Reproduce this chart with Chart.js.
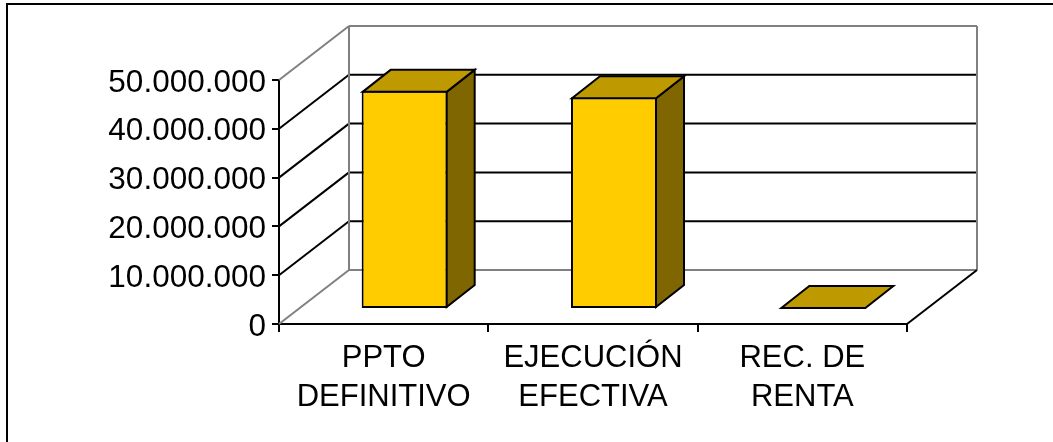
<!DOCTYPE html>
<html>
<head>
<meta charset="utf-8">
<style>
  html, body { margin: 0; padding: 0; background: #fff; overflow: hidden; }
  #chart { display: block; }
</style>
<script src="https://cdn.jsdelivr.net/npm/chart.js@4"></script>
</head>
<body>
<canvas id="chart" width="1053" height="442"></canvas>
<script>
const categories = [["PPTO", "DEFINITIVO"], ["EJECUCIÓN", "EFECTIVA"], ["REC. DE", "RENTA"]];
const values = [44700000, 43400000, 0];
const tickLabels = ["0", "10.000.000", "20.000.000", "30.000.000", "40.000.000", "50.000.000"];

const GRAY = "#808080";
const wallDepth = { x: 70, y: -54 };   // left wall / floor depth
const barShift = { x: 21, y: -15 };    // bars stand inside the floor
const barDepth = { x: 28, y: -22 };

function line(ctx, x1, y1, x2, y2, color, width) {
  ctx.strokeStyle = color;
  ctx.lineWidth = width;
  ctx.beginPath();
  ctx.moveTo(x1, y1);
  ctx.lineTo(x2, y2);
  ctx.stroke();
}

function face(ctx, pts, color) {
  ctx.fillStyle = color;
  ctx.strokeStyle = "#000";
  ctx.lineWidth = 2;
  ctx.lineJoin = "miter";
  ctx.beginPath();
  pts.forEach((p, i) => i ? ctx.lineTo(p[0], p[1]) : ctx.moveTo(p[0], p[1]));
  ctx.closePath();
  ctx.fill();
  ctx.stroke();
}

// the value labels sit a little below their ticks in the original
function nudgeLabels(scale, dy) {
  if (scale._nudged) return;
  scale._nudged = true;
  const draw = scale.drawLabels;
  scale.drawLabels = function (area) {
    this.ctx.save();
    this.ctx.translate(0, dy);
    draw.call(this, area);
    this.ctx.restore();
  };
}

const box3d = {
  id: "box3d",
  beforeDatasetsDraw(chart) {
    const ctx = chart.ctx;
    const { left, right } = chart.chartArea;
    const y = chart.scales.y;
    const dx = wallDepth.x, dy = wallDepth.y;

    ctx.save();
    // outer frame
    ctx.strokeStyle = "#000";
    ctx.lineWidth = 2;
    ctx.beginPath();
    ctx.moveTo(7, 442);
    ctx.lineTo(7, 4);
    ctx.lineTo(1053, 4);
    ctx.stroke();

    // grid on back and left walls
    y.ticks.forEach(t => {
      const p = y.getPixelForValue(t.value);
      const isEdge = t.value === 0 || t.value === y.max;
      const c = isEdge ? GRAY : "#000";
      line(ctx, left, p, left + dx, p + dy, c, 2);
      line(ctx, left + dx, p + dy, right + dx, p + dy, c, 2);
    });
    // wall verticals and floor edge
    const top = y.getPixelForValue(y.max) + dy;
    const floor = y.getPixelForValue(0) + dy;
    line(ctx, left + dx, top, left + dx, floor, GRAY, 2);
    line(ctx, right + dx, top, right + dx, floor, GRAY, 2);
    line(ctx, right, y.getPixelForValue(0), right + dx, floor, "#000", 2);
    ctx.restore();

    ctx.save();
    ctx.translate(barShift.x, barShift.y);
  },
  afterDatasetsDraw(chart) {
    const ctx = chart.ctx;
    ctx.restore();

    ctx.save();
    chart.getDatasetMeta(0).data.forEach(bar => {
      // 1px inset so the faces meet the bar's own inner border
      const l = bar.x - bar.width / 2 + barShift.x + 1;
      const r = bar.x + bar.width / 2 + barShift.x - 1;
      const b = bar.base + barShift.y - 1;
      const t = Math.min(bar.y + barShift.y + 1, b);
      const dx = barDepth.x, dy = barDepth.y;
      if (b - t > 0.5) {
        face(ctx, [[r, t], [r + dx, t + dy], [r + dx, b + dy], [r, b]], "#806600");
      }
      face(ctx, [[l, t], [l + dx, t + dy], [r + dx, t + dy], [r, t]], "#BF9900");
    });
    ctx.restore();
  }
};

new Chart(document.getElementById("chart"), {
  type: "bar",
  data: {
    labels: categories,
    datasets: [{
      data: values,
      backgroundColor: "#FFCC00",
      borderColor: "#000",
      borderWidth: 2,
      borderSkipped: false,
      categoryPercentage: 1,
      barPercentage: 0.411
    }]
  },
  options: {
    responsive: false,
    animation: false,
    devicePixelRatio: 1,
    layout: { padding: { top: 80, right: 146, left: 0, bottom: 0 } },
    plugins: { legend: { display: false }, tooltip: { enabled: false } },
    scales: {
      x: {
        afterFit: s => { s.height = 442 - 324; },
        grid: { drawOnChartArea: false, color: "#000", lineWidth: 2, tickLength: 8 },
        border: { color: "#000", width: 2 },
        ticks: {
          color: "#000",
          padding: 7,
          maxRotation: 0,
          font: { family: "'Liberation Sans', Arial, sans-serif", size: 31, lineHeight: "39px" }
        }
      },
      y: {
        min: 0,
        max: 50000000,
        afterFit: s => { s.width = 279; nudgeLabels(s, 3); },
        grid: { drawOnChartArea: false, color: "#000", lineWidth: 2, tickLength: 7 },
        border: { color: "#000", width: 2 },
        ticks: {
          stepSize: 10000000,
          color: "#000",
          padding: 6,
          font: { family: "'Liberation Sans', Arial, sans-serif", size: 31.5 },
          callback: (v, i) => tickLabels[i]
        }
      }
    }
  },
  plugins: [box3d]
});
</script>
</body>
</html>
